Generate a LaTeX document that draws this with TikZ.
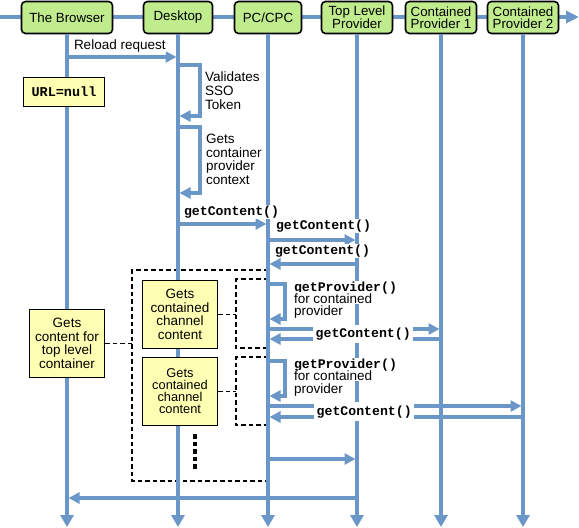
\documentclass[tikz,border=0pt]{standalone}
\usepackage{fontspec}
\setmainfont{Liberation Sans}
\setmonofont{Liberation Mono}
\usetikzlibrary{arrows.meta}
\definecolor{lineblue}{RGB}{106,150,200}
\definecolor{boxgreen}{RGB}{192,236,142}
\definecolor{noteyellow}{RGB}{255,255,180}

\begin{document}
\begin{tikzpicture}[x=1pt, y=-1pt,
    life/.style={draw=lineblue, line width=3.2pt},
    lifeend/.style={life, -{Triangle[length=12pt,width=13pt]}},
    msg/.style={life, -{Triangle[length=11pt,width=11pt]}, shorten >=1.5pt},
    hdr/.style={draw=black, line width=1.6pt, fill=boxgreen, rounded corners=4pt,
      minimum height=32pt, inner sep=1pt, align=center, font=\fontsize{13.3}{12.3}\selectfont},
    note/.style={draw=black, line width=1.6pt, fill=noteyellow, minimum width=75pt,
      minimum height=68pt, inner sep=1pt, align=center, font=\fontsize{13.5}{13.5}\selectfont},
    txt/.style={inner sep=0pt, align=left, font=\fontsize{13.5}{13.6}\selectfont},
    cmd/.style={fill=white, inner sep=0.8pt, anchor=base west, font=\ttfamily\bfseries\fontsize{13.2}{13}\selectfont},
    line/.style={fill=white, inner sep=0.8pt, anchor=base west, font=\fontsize{13.5}{13.5}\selectfont},
    grp/.style={black, line width=1.5pt, dash pattern=on 4.5pt off 3pt}]
  %tikz  portal desktop, contained providers
  \useasboundingbox (0,0) rectangle (579,528);
  \draw[life, -{Triangle[length=13pt,width=12pt]}] (0,17) -- (579,17);

  % dashed groups
  \coordinate (g0) at (132,270);
  \coordinate (g1) at (236,279);
  \coordinate (g2) at (236,357);
  \draw[grp] (268,270) -- (g0) -- (132,481) -- (268,481);
  \draw[grp] (268,279) -- (g1) -- (236,348) -- (268,348);
  \draw[grp] (268,357) -- (g2) -- (236,425) -- (268,425);

  % lifelines
  \node[hdr, minimum width=91pt] (brw) at (67,17.5) {The Browser};
  \node[hdr, minimum width=69pt] (dsk) at (178,17.5) {Desktop};
  \node[hdr, minimum width=67pt] (pcc) at (268,17.5) {PC/CPC};
  \node[hdr, minimum width=71pt] (tlp) at (357,17.5) {Top Level\\Provider};
  \node[hdr, minimum width=71pt] (cp1) at (441,17.5) {Contained\\Provider 1};
  \node[hdr, minimum width=71pt] (cp2) at (523,17.5) {Contained\\Provider 2};
  \foreach \n in {brw,dsk,pcc,tlp,cp1,cp2}
    \draw[lifeend] (\n.south) -- (\n.south |- 0,527);

  % notes
  \node[note, minimum width=81pt, minimum height=29pt, font=\ttfamily\bfseries\fontsize{13.5}{13.5}\selectfont] (url) at (64,92) {URL=null};
  \node[note] (top) at (67,343.5) {Gets\\content for\\top level\\container};
  \node[note] (ch1) at (180,314.5) {Gets\\contained\\channel\\content};
  \node[note, font=\fontsize{12.8}{12}\selectfont] (ch2) at (180,391.5) {Gets\\contained\\channel\\content};
  \draw[grp] (top.east) -- (top.east -| g0);
  \draw[grp] (ch1.east) -- (ch1.east -| g1);
  \draw[grp] (ch2.east) -- (ch2.east -| g2);
  \draw[line width=4.5pt, dash pattern=on 4.5pt off 3pt] (195,434) -- (195,470);

  % messages
  \draw[msg] (brw |- 0,57) -- (dsk |- 0,57);
  \node[line] (rel) at (73,49) {Reload request};
  \draw[msg] (dsk |- 0,65) -- (200,65) -- (200,116) -- (dsk |- 0,116);
  \node[txt, anchor=north west] (sso) at (205,72) {Validates\\SSO\\Token};
  \draw[msg] (dsk |- 0,127) -- (200,127) -- (200,193) -- (dsk |- 0,193);
  \node[txt, anchor=north west] (ctx) at (206,134) {Gets\\container\\provider\\context};

  \draw[msg] (dsk |- 0,224) -- (pcc |- 0,224);
  \node[cmd] (gc1) at (183,215) {getContent()};
  \draw[msg] (pcc |- 0,240) -- (tlp |- 0,240);
  \node[cmd] (gc2) at (275,229) {getContent()};
  \draw[msg] (tlp |- 0,264) -- (pcc |- 0,264);
  \node[cmd] (gc3) at (274,254) {getContent()};

  \draw[msg] (pcc |- 0,284) -- (285,284) -- (285,319) -- (pcc |- 0,319);
  \node[cmd] (gp1) at (293,291) {getProvider()};
  \node[line] (gp1b) at (293,303) {for contained};
  \node[line] (gp1c) at (293,315) {provider};
  \draw[msg] (pcc |- 0,329) -- (cp1 |- 0,329);
  \draw[msg] (cp1 |- 0,339) -- (pcc |- 0,339);
  \node[cmd, inner xsep=2.5pt, inner ysep=3pt] (gc4) at (313,337.5) {getContent()};

  \draw[msg] (pcc |- 0,361) -- (285,361) -- (285,396) -- (pcc |- 0,396);
  \node[cmd] (gp2) at (293,368) {getProvider()};
  \node[line] (gp2b) at (293,380.5) {for contained};
  \node[line] (gp2c) at (293,393) {provider};
  \draw[msg] (pcc |- 0,406) -- (cp2 |- 0,406);
  \draw[msg] (cp2 |- 0,417) -- (pcc |- 0,417);
  \node[cmd, inner xsep=2.5pt, inner ysep=3pt] (gc5) at (314,415) {getContent()};

  \draw[msg] (pcc |- 0,459) -- (tlp |- 0,459);
  \draw[msg] (tlp |- 0,498) -- (brw |- 0,498);
\end{tikzpicture}
\end{document}
